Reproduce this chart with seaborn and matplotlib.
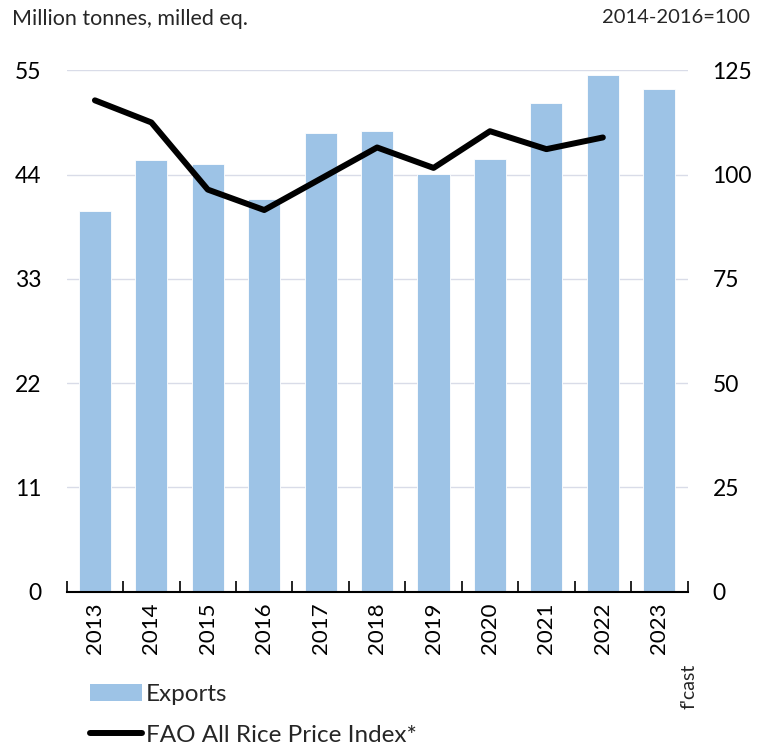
import numpy as np
import matplotlib
matplotlib.use("Agg")
import matplotlib.pyplot as plt
from matplotlib.patches import Patch
from matplotlib.lines import Line2D
import seaborn as sns

# data
years = ["2013", "2014", "2015", "2016", "2017", "2018",
         "2019", "2020", "2021", "2022", "2023"]
exports = [40.2, 45.5, 45.1, 41.4, 48.4, 48.6, 44.1, 45.6, 51.6, 54.5, 53.0]
price_index = [117.8, 112.5, 96.4, 91.5, 99.0, 106.5, 101.6, 110.4, 106.1, 108.9]

left_ticks = [0, 11, 22, 33, 44, 55]
right_ticks = [0, 25, 50, 75, 100, 125]

bar_col = "#9dc3e6"
grid_col = "#d9dce8"

sns.set_theme(style="white")
plt.rcParams["font.family"] = ["Lato", "DejaVu Sans"]

fig = plt.figure(figsize=(7.58, 7.48), dpi=100)
ax = fig.add_axes([0.088, 0.209, 0.819, 0.697])

# bars on the left axis
sns.barplot(x=years, y=exports, color=bar_col, width=0.57,
            edgecolor="white", linewidth=0.6, saturation=1, ax=ax)
ax.set_ylim(0, 55)
ax.set_yticks(left_ticks)
ax.set_xlim(-0.5, len(years) - 0.5)
ax.yaxis.grid(True, color=grid_col, linewidth=1)
ax.set_axisbelow(True)
ax.tick_params(axis="y", length=0, labelsize=16.5, pad=18, labelcolor="black")
ax.tick_params(axis="x", length=0, labelsize=16, labelrotation=90, pad=8,
               labelcolor="black")
ax.set_xticks(np.arange(-0.5, len(years), 1.0), minor=True)
ax.tick_params(axis="x", which="minor", direction="in", length=8,
               width=1.2, color="black", bottom=True)
for s in ["left", "right", "top"]:
    ax.spines[s].set_visible(False)
ax.spines["bottom"].set_color("black")
ax.spines["bottom"].set_linewidth(1.5)

# price index on the right axis
ax2 = ax.twinx()
sns.lineplot(x=np.arange(len(price_index)), y=price_index, color="black",
             linewidth=4.3, ax=ax2)
ax2.set_ylim(0, 125)
ax2.set_yticks(right_ticks)
ax2.tick_params(axis="y", length=0, labelsize=16.5, pad=18, labelcolor="black")
for s in ["left", "right", "top", "bottom"]:
    ax2.spines[s].set_visible(False)
ax2.set_xlim(-0.5, len(years) - 0.5)

fig.text(0.016, 0.974, "Million tonnes, milled eq.", fontsize=15.5,
         ha="left", va="center")
fig.text(0.99, 0.976, "2014-2016=100", fontsize=14.5, ha="right", va="center")
fig.text(0.909, 0.083, "f'cast", fontsize=14, rotation=90,
         ha="center", va="center")

handles = [Patch(facecolor=bar_col, edgecolor="none"),
           Line2D([0], [0], color="black", linewidth=4.3)]
fig.legend(handles, ["Exports", "FAO All Rice Price Index*"],
           loc="upper left", bbox_to_anchor=(0.119, 0.086), frameon=False,
           fontsize=17.5, handlelength=2.15, handleheight=0.75,
           handletextpad=0.15, labelspacing=0.8, borderpad=0,
           borderaxespad=0)

fig.savefig("out.png", dpi=100)
